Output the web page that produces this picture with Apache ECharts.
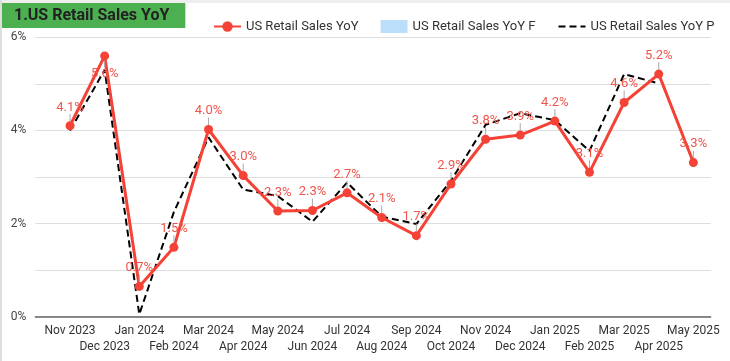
<!DOCTYPE html>
<html>
<head>
<meta charset="utf-8">
<script src="https://cdn.jsdelivr.net/npm/echarts@6/dist/echarts.min.js"></script>
<style>
html,body{margin:0;padding:0;background:#fff;}
#c{width:730px;height:361px;}
</style>
</head>
<body>
<div id="c"></div>
<script>
const months = ['Nov 2023','Dec 2023','Jan 2024','Feb 2024','Mar 2024','Apr 2024','May 2024','Jun 2024','Jul 2024','Aug 2024','Sep 2024','Oct 2024','Nov 2024','Dec 2024','Jan 2025','Feb 2025','Mar 2025','Apr 2025','May 2025'];
const actualYoY = [4.10,5.60,0.65,1.49,4.02,3.03,2.27,2.28,2.66,2.13,1.74,2.85,3.81,3.90,4.20,3.10,4.60,5.21,3.31];
const forecastYoY = [null,null,null,null,null,null,null,null,null,null,null,null,null,null,null,null,null,null,null];
const previousYoY = [4.00,5.30,0.05,2.25,3.85,2.73,2.59,2.04,2.88,2.15,1.99,2.92,4.12,4.37,4.22,3.56,5.21,5.01,null];
const yTicks = [0,2,4,6];

const FONT = 'Roboto';
const chart = echarts.init(document.getElementById('c'));
const pairs = arr => arr.map((v,i)=>[i,v]);

chart.setOption({
  animation:false,
  textStyle:{fontFamily:FONT},
  graphic:[
    {type:'rect',shape:{x:0,y:0,width:730,height:3},style:{fill:'#eeeeee'},z:0},
    {type:'rect',shape:{x:0,y:0,width:2,height:361},style:{fill:'#dddddd'},z:0}
  ],
  title:{
    text:'1.US Retail Sales YoY',
    left:2, top:3,
    backgroundColor:'#4caf50',
    padding:[4,16,4,12],
    textStyle:{fontFamily:FONT,fontSize:16,fontWeight:'bold',color:'#222',lineHeight:17}
  },
  legend:{
    left:208, top:15,
    itemWidth:27, itemHeight:13, itemGap:22,
    textStyle:{fontFamily:FONT,fontSize:13,color:'#333'},
    data:[
      {name:'US Retail Sales YoY'},
      {name:'US Retail Sales YoY F',icon:'rect'},
      {name:'US Retail Sales YoY P',itemStyle:{color:'rgba(0,0,0,0)',borderColor:'rgba(0,0,0,0)',borderWidth:0}}
    ]
  },
  grid:{left:35.4,right:19.3,top:37.3,bottom:44.3,containLabel:false},
  xAxis:{
    type:'value', min:-1, max:18.5, interval:1,
    splitLine:{show:false},
    axisTick:{show:false},
    axisLine:{show:true,onZero:false,lineStyle:{color:'#666',width:1.5}},
    axisLabel:{
      fontFamily:FONT,fontSize:12,color:'#333',margin:7,lineHeight:15.5,
      showMinLabel:true,showMaxLabel:true,
      formatter:v=>{
        if(!Number.isInteger(v)||v<0||v>=months.length) return '';
        return v%2===0 ? months[v] : '\n'+months[v];
      }
    }
  },
  yAxis:{
    type:'value', min:0, max:6, interval:1,
    axisLine:{show:false}, axisTick:{show:false},
    splitLine:{lineStyle:{color:'#dedede',width:1}},
    axisLabel:{
      fontFamily:FONT,fontSize:12,color:'#444',margin:9,
      formatter:v=> yTicks.includes(v) ? v+'%' : ''
    }
  },
  series:[
    {
      name:'US Retail Sales YoY F',
      type:'bar',
      data:pairs(forecastYoY),
      itemStyle:{color:'#bbdefb'}
    },
    {
      name:'US Retail Sales YoY P',
      type:'line',
      data:pairs(previousYoY),
      symbol:'none',
      z:3,
      lineStyle:{color:'#000',width:2,type:[7,4]},
      itemStyle:{color:'#000'}
    },
    {
      name:'US Retail Sales YoY',
      type:'line',
      z:4,
      data:actualYoY.map((v,i)=> i===1
        ? {value:[i,v],label:{position:'bottom',distance:7}}
        : {value:[i,v]}),
      symbol:'circle', symbolSize:9,
      lineStyle:{color:'#f44336',width:3},
      itemStyle:{color:'#f44336'},
      label:{
        show:true, position:'top', distance:1.5,
        fontFamily:FONT,fontSize:13,color:'#f0554c',
        formatter:p=>p.value[1].toFixed(1)+'%'
      },
      labelLayout:p=> p.dataIndex===1 ? {} : {dy:-6},
      labelLine:{show:true,lineStyle:{color:'#aaaaaa',width:1}}
    }
  ]
});
</script>
</body>
</html>
